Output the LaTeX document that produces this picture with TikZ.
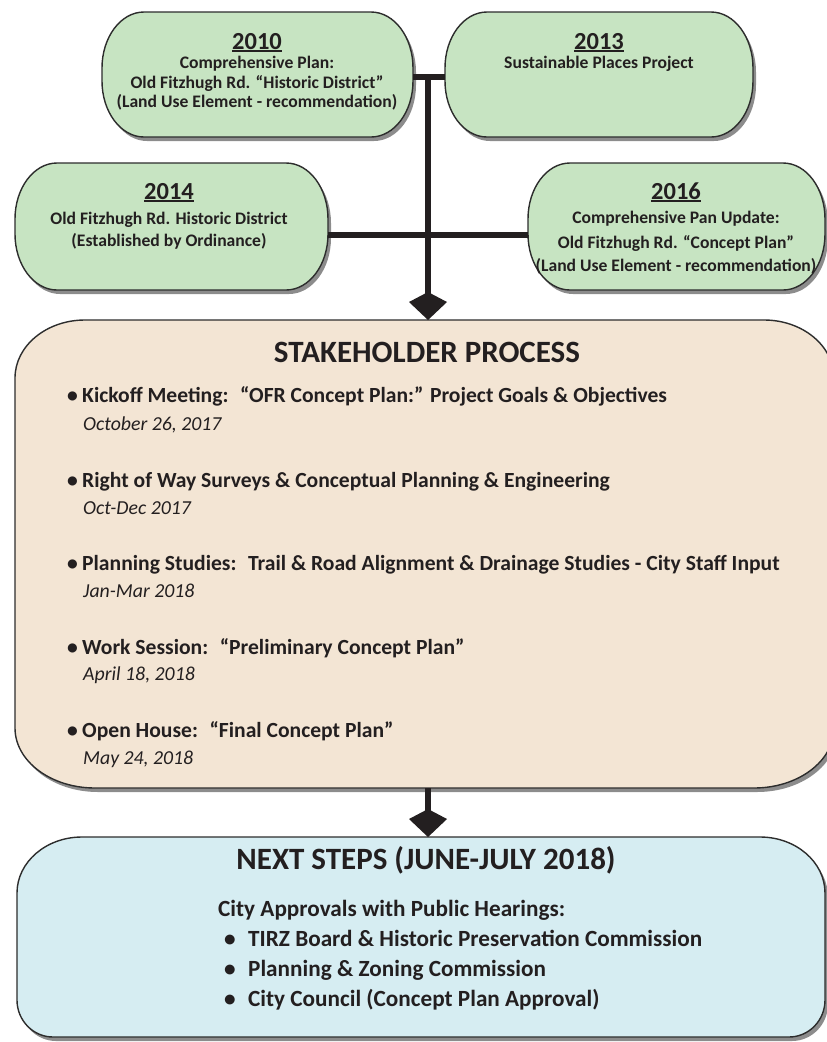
\documentclass[tikz,border=0pt]{standalone}
\usepackage{fontspec}
\setmainfont{Carlito}
\usetikzlibrary{arrows.meta,shadows}
\definecolor{gfill}{RGB}{199,228,194}
\definecolor{bfill}{RGB}{243,229,212}
\definecolor{cfill}{RGB}{214,237,242}
\definecolor{ink}{RGB}{35,31,32}
\definecolor{edgec}{RGB}{45,45,45}
\newcommand\rxt{40}\newcommand\ryt{55}\newcommand\rxb{40}\newcommand\ryb{55}
\newcommand\setradii[4]{\renewcommand\rxt{#1}\renewcommand\ryt{#2}\renewcommand\rxb{#3}\renewcommand\ryb{#4}}
\newcommand\mybubble[6]{%
 \draw[bubble,fill=#6] ({#2+\rxt},#3) -- ({#4-\rxt},#3)
 .. controls ({#4-0.4477*\rxt},#3) and (#4,{#3+0.4477*\ryt}) .. (#4,{#3+\ryt})
 -- (#4,{#5-\ryb})
 .. controls (#4,{#5-0.4477*\ryb}) and ({#4-0.4477*\rxb},#5) .. ({#4-\rxb},#5)
 -- ({#2+\rxb},#5)
 .. controls ({#2+0.4477*\rxb},#5) and (#2,{#5-0.4477*\ryb}) .. (#2,{#5-\ryb})
 -- (#2,{#3+\ryt})
 .. controls (#2,{#3+0.4477*\ryt}) and ({#2+0.4477*\rxt},#3) .. ({#2+\rxt},#3) -- cycle;
 \node[boxarea,minimum width={(#4-#2)*1pt},minimum height={(#5-#3)*1pt}] (#1) at ({(#2+#4)/2},{(#3+#5)/2}) {};}
\newcommand\yearul[1]{\setbox0\hbox{#1}\rlap{\rule[-2.8pt]{\wd0}{1.8pt}}\box0}
\newcommand\blt{\makebox[15pt][l]{•}}
\newcommand\bltw{\makebox[24pt][l]{•}}
\begin{document}
\begin{tikzpicture}[x=1pt,y=-1pt,
  bubble/.style={draw=edgec,line width=1.4pt,drop shadow={shadow xshift=3pt,shadow yshift=-4pt,fill=black,opacity=0.45}},
  boxarea/.style={draw=none,rectangle,inner sep=0pt,outer sep=0pt},
  conn/.style={draw=ink,line width=6pt},
  arr/.style={conn,-{Kite[length=28pt,width=38pt,inset=10pt]}},
  yr/.style={font=\fontsize{24.5}{27}\selectfont\bfseries,text=ink,inner sep=0pt,anchor=base},
  gt/.style={font=\fontsize{17.6}{20}\selectfont\bfseries,text=ink,inner sep=0pt,anchor=base},
  hd/.style={font=\fontsize{31}{34}\selectfont\bfseries,text=ink,inner sep=0pt,anchor=base},
  itm/.style={font=\fontsize{21.6}{24}\selectfont\bfseries,text=ink,inner sep=0pt,anchor=base west},
  itn/.style={font=\fontsize{23.2}{26}\selectfont\bfseries,text=ink,inner sep=0pt,anchor=base west},
  dte/.style={font=\fontsize{19.8}{23}\selectfont\itshape,text=ink,inner sep=0pt,anchor=base west}]
\useasboundingbox (0,0) rectangle (827,1042);
\fill[white] (0,0) rectangle (827,1042);

% green boxes
\setradii{42}{56}{42}{56}
\mybubble{b2010}{102}{12}{413}{137}{gfill}
\mybubble{b2013}{445}{12}{753}{137}{gfill}
\mybubble{b2014}{15}{163}{328}{290}{gfill}
\mybubble{b2016}{528}{163}{825}{290}{gfill}
% stakeholder box
\setradii{70}{58}{80}{60}
\mybubble{stake}{15}{320}{834}{788}{bfill}
% next steps box
\setradii{65}{56}{36}{37}
\mybubble{next}{17}{837}{825}{1037}{cfill}

% texts green boxes
\node[yr] (y2010) at (257,49) {\yearul{2010}};
\node[gt] (t2010a) at (257,68) {Comprehensive Plan:};
\node[gt] (t2010b) at (257,88) {Old Fitzhugh Rd. “Historic District”};
\node[gt] (t2010c) at (257,107) {(Land Use Element - recommendation)};

\node[yr] (y2013) at (599,49) {\yearul{2013}};
\node[gt] (t2013a) at (599,68) {Sustainable Places Project};

\node[yr] (y2014) at (169,199) {\yearul{2014}};
\node[gt] (t2014a) at (169,224) {Old Fitzhugh Rd. Historic District};
\node[gt] (t2014b) at (169,246) {(Established by Ordinance)};

\node[yr] (y2016) at (676,199) {\yearul{2016}};
\node[gt] (t2016a) at (676,223) {Comprehensive Pan Update:};
\node[gt] (t2016b) at (676,248) {Old Fitzhugh Rd. “Concept Plan”};
\node[gt] (t2016c) at (676,271) {(Land Use Element - recommendation)};

% stakeholder texts
\node[hd] (shd) at (427,362) {STAKEHOLDER PROCESS};
\node[itm] (s1) at (67,402) {\blt Kickoff Meeting:\hspace{5pt} “OFR Concept Plan:” Project Goals \& Objectives};
\node[dte] (d1) at (83,430) {October 26, 2017};
\node[itm] (s2) at (67,487) {\blt Right of Way Surveys \& Conceptual Planning \& Engineering};
\node[dte] (d2) at (83,514) {Oct-Dec 2017};
\node[itm] (s3) at (67,570) {\blt Planning Studies:\hspace{5pt} Trail \& Road Alignment \& Drainage Studies - City Staff Input};
\node[dte] (d3) at (83,597) {Jan-Mar 2018};
\node[itm] (s4) at (67,654) {\blt Work Session:\hspace{5pt} “Preliminary Concept Plan”};
\node[dte] (d4) at (83,680) {April 18, 2018};
\node[itm] (s5) at (67,737) {\blt Open House:\hspace{5pt} “Final Concept Plan”};
\node[dte] (d5) at (83,764) {May 24, 2018};

% next steps texts
\node[hd] (nhd) at (426,869) {NEXT STEPS (JUNE-JULY 2018)};
\node[itn] (n0) at (218,916) {City Approvals with Public Hearings:};
\node[itn] (n1) at (224,946) {\bltw TIRZ Board \& Historic Preservation Commission};
\node[itn] (n2) at (224,976) {\bltw Planning \& Zoning Commission};
\node[itn] (n3) at (224,1006) {\bltw City Council (Concept Plan Approval)};

% connectors
\coordinate (j1) at (428,77);
\draw[conn] ([yshift=-2.5pt]b2010.east) -- ([yshift=-2.5pt]b2013.west);
\draw[conn] ([yshift=-8.5pt]b2014.east) -- ([yshift=-8.5pt]b2016.west);
\draw[arr] (j1) -- (j1 |- stake.north);
\draw[arr] (j1 |- stake.south) -- (j1 |- next.north);
\end{tikzpicture}
\end{document}
